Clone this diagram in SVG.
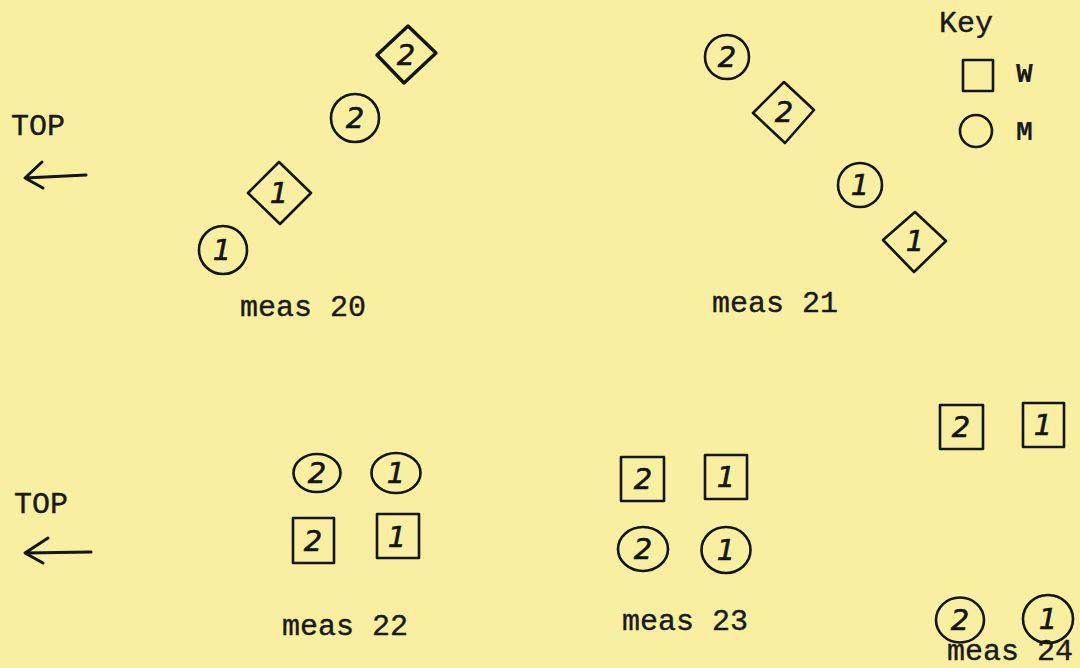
<svg xmlns="http://www.w3.org/2000/svg" width="1080" height="668" viewBox="0 0 1080 668">
  <style>
    .shape { fill: none; stroke: #141414; stroke-width: 2.6; stroke-linejoin: round; }
    .thick { stroke-width: 3.4; }
    .type { font-family: "Liberation Mono", "Courier New", monospace; font-size: 30px; fill: #1a1a1a; stroke: #1a1a1a; stroke-width: 0.4; }
    .typeb { font-family: "Liberation Mono", "Courier New", monospace; font-size: 28px; font-weight: bold; fill: #1a1a1a; }
    .hand { font-family: "DejaVu Sans", "Liberation Sans", sans-serif; font-style: italic; font-size: 29px; fill: #141414; stroke: #141414; stroke-width: 0.6; text-anchor: middle; dominant-baseline: central; }
    .arrow { fill: none; stroke: #141414; stroke-width: 3; stroke-linecap: round; stroke-linejoin: round; }
  </style>
  <rect x="0" y="0" width="1080" height="668" fill="#F8F0A0"/>

  <!-- Direction labels -->
  <g id="top-label-1">
    <text class="type" x="11" y="135">TOP</text>
  </g>
  <g id="top-label-2">
    <text class="type" x="14" y="513">TOP</text>
  </g>
  <g id="arrows">
    <path class="arrow" d="M86,175 L25,178 M42,162 L25,178 L43,188"/>
    <path class="arrow" d="M91,552 L25,553 M48,538 L25,553 L43,563"/>
  </g>

  <!-- Key -->
  <g id="key">
    <text class="type" x="939" y="32">Key</text>
    <rect class="shape" x="963" y="60" width="30" height="31"/>
    <text class="typeb" x="1016" y="82">W</text>
    <circle class="shape" cx="976" cy="131" r="16"/>
    <text class="typeb" x="1016" y="140">M</text>
  </g>

  <!-- meas 20 -->
  <g id="m20-m1">
    <circle class="shape" cx="223" cy="250" r="24"/>
    <text class="hand" x="222" y="250">1</text>
  </g>
  <g id="m20-w1">
    <polygon class="shape" points="279,162 311,193 280,224 248,193"/>
    <text class="hand" x="279" y="193">1</text>
  </g>
  <g id="m20-m2">
    <circle class="shape" cx="355" cy="118" r="24"/>
    <text class="hand" x="355" y="118">2</text>
  </g>
  <g id="m20-w2">
    <polygon class="shape thick" points="408,26 436,53 404,83 377,55"/>
    <text class="hand" x="406" y="55">2</text>
  </g>
  <g id="label-20">
    <text class="type" x="240" y="316">meas 20</text>
  </g>

  <!-- meas 21 -->
  <g id="m21-m2">
    <circle class="shape" cx="727" cy="57" r="22"/>
    <text class="hand" x="727" y="57">2</text>
  </g>
  <g id="m21-w2">
    <polygon class="shape" points="784,82 814,110 785,143 753,113"/>
    <text class="hand" x="784" y="112">2</text>
  </g>
  <g id="m21-m1">
    <circle class="shape" cx="860" cy="185" r="22"/>
    <text class="hand" x="860" y="185">1</text>
  </g>
  <g id="m21-w1">
    <polygon class="shape" points="915,212 946,241 914,272 883,240"/>
    <text class="hand" x="915" y="241">1</text>
  </g>
  <g id="label-21">
    <text class="type" x="712" y="312">meas 21</text>
  </g>

  <!-- meas 22 -->
  <g id="m22-m2">
    <ellipse class="shape" cx="317" cy="473" rx="23.5" ry="19"/>
    <text class="hand" x="317" y="473">2</text>
  </g>
  <g id="m22-m1">
    <ellipse class="shape" cx="396" cy="473" rx="24.5" ry="20"/>
    <text class="hand" x="396" y="473">1</text>
  </g>
  <g id="m22-w2">
    <rect class="shape" x="293" y="518" width="41" height="45"/>
    <text class="hand" x="313" y="541">2</text>
  </g>
  <g id="m22-w1">
    <rect class="shape" x="377" y="514" width="42" height="44"/>
    <text class="hand" x="397" y="537">1</text>
  </g>
  <g id="label-22">
    <text class="type" x="282" y="635">meas 22</text>
  </g>

  <!-- meas 23 -->
  <g id="m23-w2">
    <rect class="shape" x="621" y="457" width="43" height="44"/>
    <text class="hand" x="643" y="479">2</text>
  </g>
  <g id="m23-w1">
    <rect class="shape" x="705" y="455" width="42" height="44"/>
    <text class="hand" x="726" y="477">1</text>
  </g>
  <g id="m23-m2">
    <ellipse class="shape" cx="643" cy="549" rx="25" ry="22"/>
    <text class="hand" x="643" y="549">2</text>
  </g>
  <g id="m23-m1">
    <ellipse class="shape" cx="726" cy="550" rx="24.5" ry="23"/>
    <text class="hand" x="726" y="550">1</text>
  </g>
  <g id="label-23">
    <text class="type" x="622" y="630">meas 23</text>
  </g>

  <!-- meas 24 -->
  <g id="m24-w2">
    <rect class="shape" x="940" y="405" width="43" height="44"/>
    <text class="hand" x="961" y="427">2</text>
  </g>
  <g id="m24-w1">
    <rect class="shape" x="1023" y="403" width="41" height="44"/>
    <text class="hand" x="1043" y="425">1</text>
  </g>
  <g id="m24-m2">
    <ellipse class="shape" cx="960" cy="620" rx="24" ry="22.5"/>
    <text class="hand" x="960" y="620">2</text>
  </g>
  <g id="m24-m1">
    <ellipse class="shape" cx="1048" cy="619" rx="25" ry="24"/>
    <text class="hand" x="1048" y="619">1</text>
  </g>
  <g id="label-24">
    <text class="type" x="947" y="660" font-size="28">meas 24</text>
  </g>
</svg>
